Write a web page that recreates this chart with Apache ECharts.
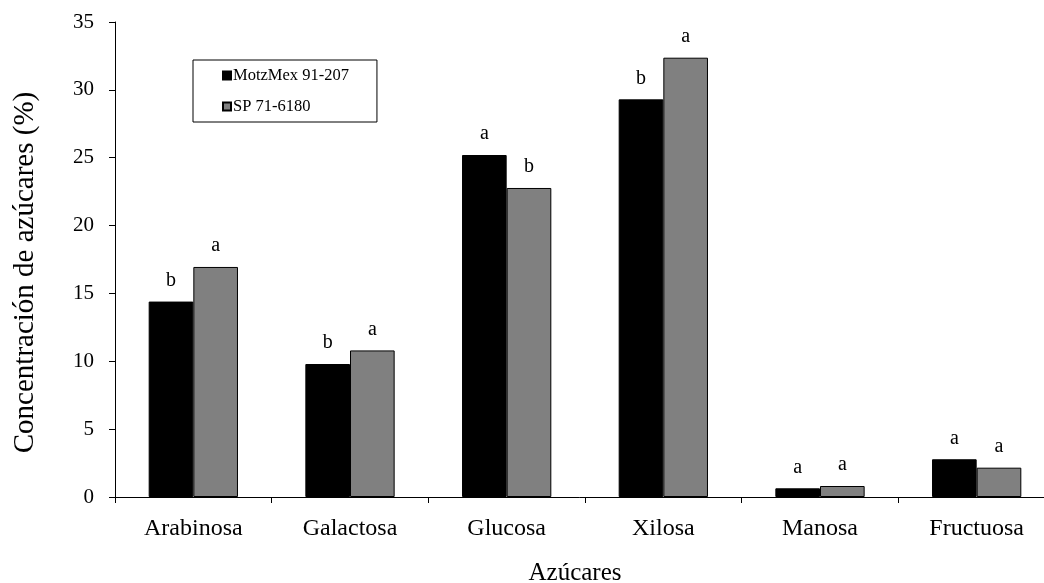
<!DOCTYPE html>
<html>
<head>
<meta charset="utf-8">
<script src="https://cdn.jsdelivr.net/npm/echarts@6/dist/echarts.min.js"></script>
<style>html,body{margin:0;padding:0;background:#fff}#c{width:1044px;height:583px}</style>
</head>
<body>
<div id="c"></div>
<script>
const categories = ['Arabinosa', 'Galactosa', 'Glucosa', 'Xilosa', 'Manosa', 'Fructuosa'];
const motzValues = [14.4, 9.8, 25.2, 29.3, 0.64, 2.78];
const spValues = [16.95, 10.8, 22.77, 32.37, 0.81, 2.16];
const motzLetters = ['b', 'b', 'a', 'b', 'a', 'a'];
const spLetters = ['a', 'a', 'b', 'a', 'a', 'a'];
const yTicks = [0, 5, 10, 15, 20, 25, 30, 35];
const seriesNames = ['MotzMex 91-207', 'SP 71-6180'];

const FONT = '"Liberation Serif", "Times New Roman", serif';
const chart = echarts.init(document.getElementById('c'));

function mkSeries(name, vals, letters, color) {
  return {
    name: name,
    type: 'bar',
    data: vals,
    barGap: '0%',
    barCategoryGap: '43%',
    itemStyle: { color: color, borderColor: '#000', borderWidth: 1 },
    label: {
      show: true, position: 'top', distance: 11,
      formatter: p => letters[p.dataIndex],
      fontFamily: FONT, fontSize: 20, color: '#000'
    },
    emphasis: { disabled: true }
  };
}

chart.setOption({
  animation: false,
  backgroundColor: '#fff',
  grid: { left: 115, top: 22, height: 475, width: 940, containLabel: false, outerBoundsMode: 'none' },
  legend: {
    orient: 'vertical', left: 193, top: 60,
    data: seriesNames,
    icon: 'rect', itemWidth: 8, itemHeight: 8, itemGap: 14,
    padding: [7, 28, 7, 29],
    borderColor: '#000', borderWidth: 1,
    textStyle: { fontFamily: FONT, fontSize: 16.5, color: '#000', lineHeight: 16, padding: [0, 0, 0, -3] }
  },
  xAxis: {
    type: 'category', data: categories,
    axisLine: { lineStyle: { color: '#000', width: 1 } },
    axisTick: { show: true, length: 6, alignWithLabel: false, lineStyle: { color: '#000' } },
    axisLabel: { fontFamily: FONT, fontSize: 24, color: '#000', margin: 20 },
    name: 'Azúcares', nameLocation: 'middle', nameGap: 64,
    nameTextStyle: { fontFamily: FONT, fontSize: 25, color: '#000', padding: [0, 20, 0, 0] }
  },
  yAxis: {
    type: 'value', min: yTicks[0], max: yTicks[yTicks.length - 1], interval: 5,
    splitLine: { show: false },
    axisLine: { show: true, lineStyle: { color: '#000', width: 1 } },
    axisTick: { show: true, length: 6, lineStyle: { color: '#000' } },
    axisLabel: { fontFamily: FONT, fontSize: 21, color: '#000', margin: 21 },
    name: 'Concentración de azúcares (%)', nameLocation: 'middle', nameGap: 75, nameRotate: 90,
    nameTextStyle: { fontFamily: FONT, fontSize: 29, color: '#000', padding: [0, 26, 0, 0] }
  },
  series: [
    mkSeries(seriesNames[0], motzValues, motzLetters, '#000000'),
    mkSeries(seriesNames[1], spValues, spLetters, '#808080')
  ]
});
</script>
</body>
</html>
